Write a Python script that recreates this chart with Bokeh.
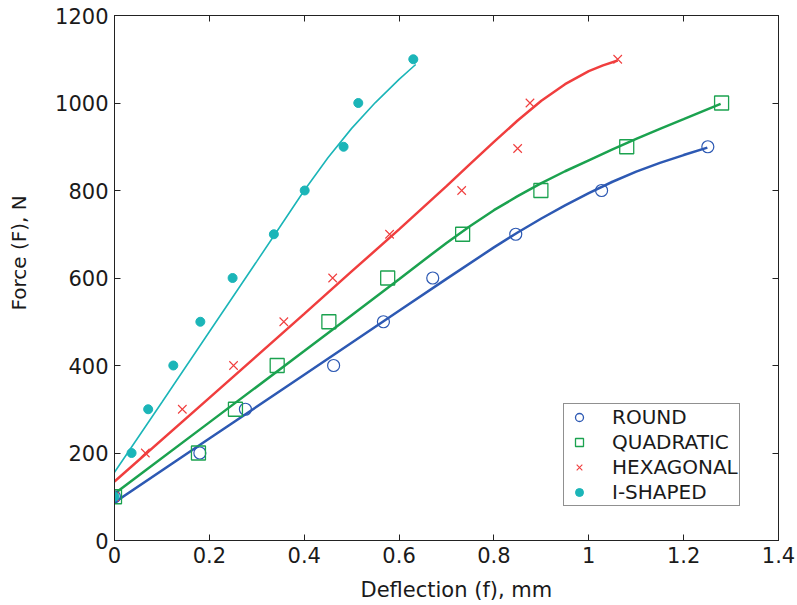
import numpy as np
from bokeh.plotting import figure
from bokeh.models import (Range1d, LinearAxis, Legend, LegendItem, Title,
                          ColumnDataSource, FixedTicker)
from bokeh.embed import file_html
from bokeh.resources import INLINE

round_x = [0.0, 0.18, 0.276, 0.462, 0.567, 0.671, 0.846, 1.027, 1.251]
round_y = [100, 200, 300, 400, 500, 600, 700, 800, 900]

quad_x = [0.0, 0.177, 0.255, 0.343, 0.452, 0.576, 0.734, 0.899, 1.08, 1.28]
quad_y = [100, 200, 300, 400, 500, 600, 700, 800, 900, 1000]

hex_x = [0.0, 0.065, 0.143, 0.251, 0.357, 0.46, 0.58, 0.732, 0.85, 0.876, 1.061]
hex_y = [100, 200, 300, 400, 500, 600, 700, 800, 896, 1000, 1100]

ish_x = [0.0, 0.036, 0.071, 0.124, 0.181, 0.249, 0.336, 0.401, 0.483, 0.514, 0.63]
ish_y = [100, 200, 300, 400, 500, 600, 700, 800, 900, 1000, 1100]

# ---------------- fitted trend curves ----------------
round_fit_x = [0.0, 0.2, 0.4, 0.6, 0.7, 0.8, 0.85, 0.9, 0.95, 1.0, 1.05, 1.1, 1.15, 1.2, 1.25]
round_fit_y = [87, 233, 379, 525, 598, 670, 704, 736, 766, 794, 820, 843, 863, 881, 898]

quad_fit_x = [0.0, 0.2, 0.4, 0.5, 0.6, 0.65, 0.7, 0.75, 0.8, 0.85, 0.9, 0.95, 1.0,
              1.05, 1.1, 1.15, 1.2, 1.278]
quad_fit_y = [107, 270, 433, 515, 597, 639, 680, 719, 755, 787, 817, 844, 869,
              894, 918, 941, 963, 998]

hex_fit_x = [0.0, 0.2, 0.4, 0.5, 0.6, 0.7, 0.75, 0.8, 0.85, 0.9, 0.95, 1.0, 1.03, 1.061]
hex_fit_y = [135, 326, 518, 615, 711, 810, 861, 911, 960, 1005, 1043, 1073, 1086, 1097]

ish_fit_x = [0.0, 0.1, 0.2, 0.3, 0.35, 0.4, 0.45, 0.5, 0.55, 0.6, 0.635]
ish_fit_y = [156, 316, 477, 638, 719, 800, 875, 942, 1001, 1054, 1088]

series_names = ["ROUND", "QUADRATIC", "HEXAGONAL", "I-SHAPED"]
x_ticks = [0, 0.2, 0.4, 0.6, 0.8, 1.0, 1.2, 1.4]
y_ticks = [0, 200, 400, 600, 800, 1000, 1200]
x_title = "Deflection (f), mm"
y_title = "Force (F), N"

BLUE = "#2d59b3"
GREEN = "#1ba24f"
RED = "#f03e3e"
CYAN = "#1bb5b8"
INK = "#1a1a1a"

FONT = "DejaVu Sans"

p = figure(width=797, height=605, output_backend="svg", toolbar_location=None,
           x_range=Range1d(0, 1.4), y_range=Range1d(0, 1200),
           min_border_left=114, min_border_right=19, min_border_top=15,
           min_border_bottom=65)
p.grid.visible = False
p.outline_line_color = "#222222"
p.outline_line_width = 1
p.background_fill_color = "white"
p.border_fill_color = "white"


def style_axis(ax, labels=True):
    ax.major_tick_in = 6
    ax.major_tick_out = 0
    ax.minor_tick_line_color = None
    ax.axis_line_color = "#222222"
    ax.major_tick_line_color = "#222222"
    ax.major_label_text_font = FONT
    ax.major_label_text_font_size = "21px" if labels else "0px"
    ax.major_label_text_color = INK if labels else None
    ax.major_label_standoff = 6


p.xaxis.ticker = x_ticks
p.yaxis.ticker = y_ticks
p.xaxis.major_label_overrides = {0: "0", 1.0: "1"}
style_axis(p.xaxis[0])
style_axis(p.yaxis[0])

top_ax = LinearAxis(ticker=x_ticks)
right_ax = LinearAxis(ticker=y_ticks)
style_axis(top_ax, labels=False)
style_axis(right_ax, labels=False)
p.add_layout(top_ax, "above")
p.add_layout(right_ax, "right")


def spacer(gap, ticks):
    # an invisible axis used only to reserve room between tick labels and title
    ax = LinearAxis(ticker=FixedTicker(ticks=ticks))
    ax.axis_line_color = None
    ax.major_tick_line_color = None
    ax.minor_tick_line_color = None
    ax.major_tick_in = 0
    ax.major_tick_out = gap
    ax.major_label_standoff = 0
    ax.major_label_text_font_size = "0px"
    ax.major_label_text_color = None
    return ax


# trend curves
p.line(round_fit_x, round_fit_y, line_color=BLUE, line_width=2.5)
p.line(quad_fit_x, quad_fit_y, line_color=GREEN, line_width=2.5)
p.line(hex_fit_x, hex_fit_y, line_color=RED, line_width=2.5)
p.line(ish_fit_x, ish_fit_y, line_color=CYAN, line_width=1.6)

# markers
p.scatter(round_x, round_y, marker="circle", size=12, fill_color=None,
          line_color=BLUE, line_width=1.2)
p.scatter(quad_x, quad_y, marker="square", size=14, fill_color=None,
          line_color=GREEN, line_width=1.3)
p.scatter(hex_x, hex_y, marker="x", size=12, line_color=RED, line_width=1.1)
p.scatter(ish_x, ish_y, marker="circle", size=9, fill_color=CYAN,
          line_color=CYAN, line_width=1)


# legend proxies (smaller glyphs as in the reference legend; never drawn in the plot)
def proxy():
    return ColumnDataSource(dict(x=[np.nan], y=[np.nan]))


lg_r = p.scatter("x", "y", source=proxy(), marker="circle", size=9,
                 fill_color=None, line_color=BLUE, line_width=1.3)
lg_q = p.scatter("x", "y", source=proxy(), marker="square", size=9,
                 fill_color=None, line_color=GREEN, line_width=1.3)
lg_h = p.scatter("x", "y", source=proxy(), marker="x", size=9,
                 line_color=RED, line_width=1.1)
lg_i = p.scatter("x", "y", source=proxy(), marker="circle", size=7,
                 fill_color=CYAN, line_color=CYAN)

legend = Legend(items=[LegendItem(label=series_names[0], renderers=[lg_r]),
                       LegendItem(label=series_names[1], renderers=[lg_q]),
                       LegendItem(label=series_names[2], renderers=[lg_h]),
                       LegendItem(label=series_names[3], renderers=[lg_i])],
                location=(449, 34))
legend.label_text_font = FONT
legend.label_text_font_size = "20px"
legend.label_text_color = INK
legend.border_line_color = "#222222"
legend.border_line_width = 1
legend.background_fill_alpha = 1
legend.padding = 1
legend.margin = 0
legend.spacing = 1
legend.glyph_width = 28
legend.glyph_height = 20
legend.label_height = 20
legend.label_standoff = 19
p.add_layout(legend, "center")

# axis titles (spacers push them to the reference positions)
p.add_layout(spacer(9, x_ticks), "below")
p.add_layout(spacer(20, y_ticks), "left")
xt = Title(text=x_title, align="left", offset=246, standoff=2,
           vertical_align="bottom", text_font=FONT, text_font_size="21px",
           text_font_style="normal", text_color=INK)
yt = Title(text=y_title, align="left", offset=230, standoff=4,
           vertical_align="bottom", text_font=FONT, text_font_size="20px",
           text_font_style="normal", text_color=INK)
p.add_layout(xt, "below")
p.add_layout(yt, "left")

open("out.html", "w").write(file_html(p, INLINE))
